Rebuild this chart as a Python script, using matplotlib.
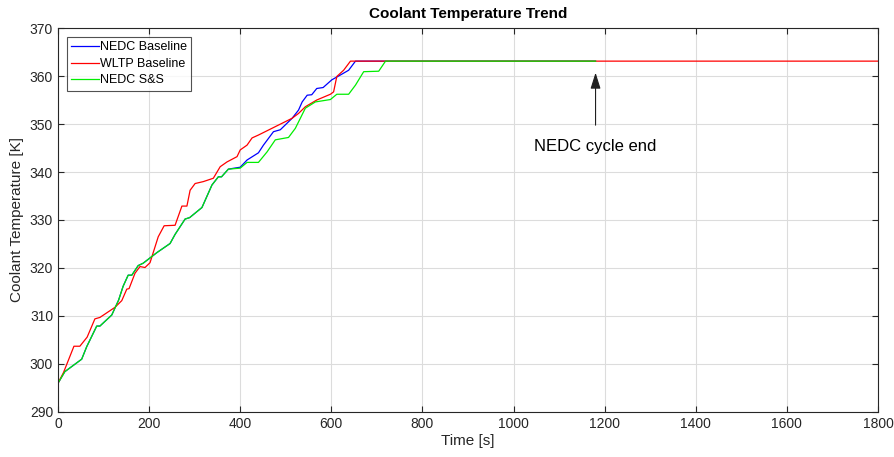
import numpy as np
import matplotlib.pyplot as plt

plt.rcParams['font.family'] = ['Liberation Sans', 'DejaVu Sans']

# NEDC baseline run (time [s], coolant temperature [K])
nedc_t = [0, 15, 52, 63, 85, 92, 118, 133, 143, 154, 162, 176, 187, 217, 246, 257,
          279, 289, 316, 338, 352, 359, 374, 400, 415, 440, 451, 473, 488, 514, 528,
          536, 547, 557, 568, 582, 601, 616, 638, 653, 1180]
nedc_T = [296.0, 298.4, 301.0, 303.6, 307.9, 307.9, 310.2, 313.3, 316.2, 318.5, 318.5,
          320.5, 321.0, 323.2, 325.1, 327.0, 330.2, 330.5, 332.6, 337.3, 339.0, 339.0,
          340.6, 341.0, 342.5, 344.0, 345.6, 348.4, 348.8, 351.2, 352.9, 354.6, 356.0,
          356.1, 357.4, 357.6, 359.2, 360.0, 361.2, 363.1, 363.1]

# WLTP baseline run
wltp_t = [0, 12, 35, 48, 64, 81, 92, 125, 140, 151, 156, 169, 180, 191, 202, 220, 233,
          257, 272, 283, 290, 301, 319, 341, 356, 371, 393, 400, 415, 426, 440, 514,
          528, 543, 568, 598, 605, 612, 627, 642, 1800]
wltp_T = [296.0, 298.2, 303.7, 303.7, 305.6, 309.4, 309.7, 311.8, 313.2, 315.6, 315.7,
          318.9, 320.3, 320.1, 321.1, 326.5, 328.8, 328.9, 332.9, 332.9, 336.2, 337.6,
          338.0, 338.7, 341.1, 342.1, 343.2, 344.6, 345.6, 347.1, 347.7, 351.2, 352.2,
          353.6, 355.0, 356.2, 356.7, 359.9, 361.2, 363.1, 363.1]

# NEDC with start & stop
ss_t = [0, 15, 52, 63, 85, 92, 118, 133, 143, 154, 162, 176, 187, 217, 246, 257, 279,
        289, 316, 338, 352, 359, 374, 400, 415, 440, 459, 477, 506, 521, 543, 565, 598,
        612, 638, 653, 671, 704, 719, 1180]
ss_T = [296.0, 298.4, 301.0, 303.6, 307.9, 307.9, 310.2, 313.3, 316.2, 318.5, 318.5,
        320.5, 321.0, 323.2, 325.1, 327.0, 330.2, 330.5, 332.6, 337.3, 339.0, 339.0,
        340.6, 340.8, 342.0, 342.0, 344.2, 346.7, 347.2, 349.1, 353.3, 354.6, 355.1,
        356.2, 356.2, 358.1, 360.9, 361.0, 363.1, 363.1]

nedc_end = 1180

fig = plt.figure(figsize=(8.95, 4.57), dpi=100)
ax = fig.add_axes([0.0648, 0.0985, 0.9162, 0.8402])

ax.plot(nedc_t, nedc_T, color='#0000ff', lw=0.9, label='NEDC Baseline')
ax.plot(wltp_t, wltp_T, color='#ff0000', lw=0.9, label='WLTP Baseline')
ax.plot(ss_t, ss_T, color='#00ee00', lw=0.9, label='NEDC S&S')

ax.set_xlim(0, 1800)
ax.set_ylim(290, 370)
ax.set_xticks(np.arange(0, 1801, 200))
ax.set_yticks(np.arange(290, 371, 10))
ax.grid(True, color='#dcdcdc', lw=0.8)
ax.set_axisbelow(True)
ax.tick_params(direction='in', top=True, right=True, length=4, labelsize=10,
               colors='#262626')
for s in ax.spines.values():
    s.set_color('#262626')
    s.set_linewidth(0.8)

ax.set_xlabel('Time [s]', fontsize=11, color='#262626', labelpad=2)
ax.set_ylabel('Coolant Temperature [K]', fontsize=11, color='#262626', labelpad=4)
ax.set_title('Coolant Temperature Trend', fontsize=11, fontweight='bold', pad=7)

ax.annotate('NEDC cycle end', xy=(nedc_end, 360.7), xytext=(nedc_end, 345.3),
            ha='center', va='center', fontsize=12,
            arrowprops=dict(arrowstyle='-|>,head_length=0.7,head_width=0.22',
                            color='#202020', lw=0.8, shrinkA=8, shrinkB=0,
                            mutation_scale=14))

leg = ax.legend(loc='upper left', fontsize=9, frameon=True, fancybox=False,
                handlelength=2.2, handletextpad=0.1, borderpad=0.35,
                labelspacing=0.36, borderaxespad=0.72)
leg.get_frame().set_edgecolor('#262626')
leg.get_frame().set_linewidth(0.8)

fig.savefig('out.png', dpi=100)
